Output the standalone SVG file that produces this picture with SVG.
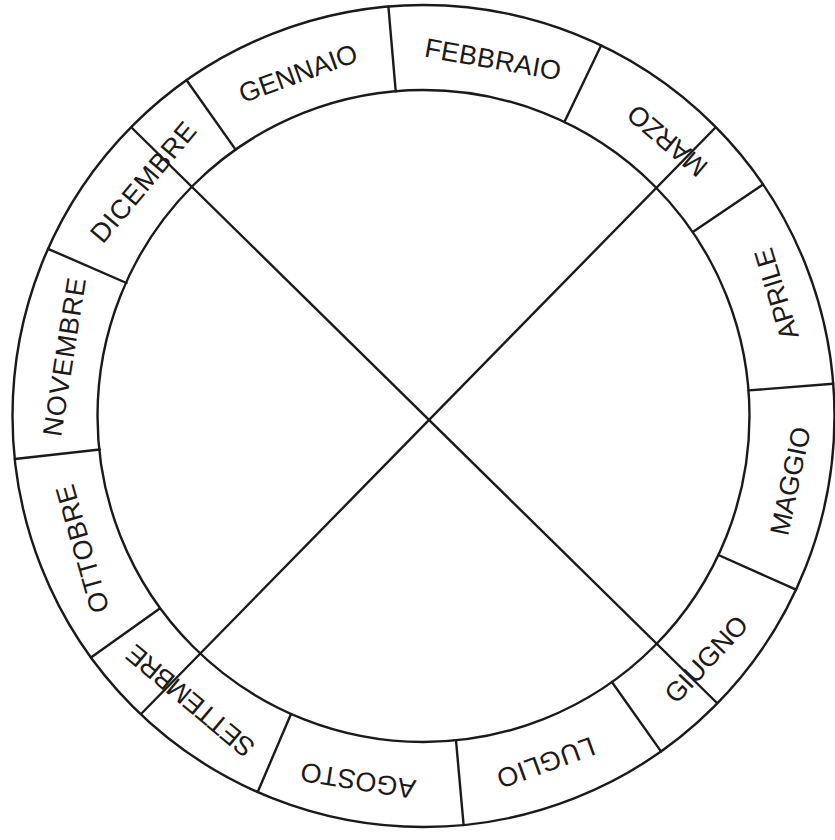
<svg xmlns="http://www.w3.org/2000/svg" width="835" height="840" viewBox="0 0 835 840">
  <style>
    .ln { stroke: #1a1a1a; stroke-width: 2.4; fill: none; stroke-linecap: round; }
    .m { font-family: "Liberation Sans", Arial, Helvetica, sans-serif; font-size: 27px; fill: #1a1a1a; text-anchor: middle; }
  </style>
  <rect width="835" height="840" fill="#ffffff"/>
  <g id="wheel">
    <circle class="ln" cx="423.5" cy="416" r="411"/>
    <circle class="ln" cx="423.5" cy="416" r="326"/>
  </g>
  <g id="separators">
    <line class="ln" x1="388.4" y1="6.5" x2="395.7" y2="91.2"/>
    <line class="ln" x1="601.1" y1="45.4" x2="564.4" y2="122"/>
    <line class="ln" x1="763" y1="184.4" x2="693.5" y2="231.5"/>
    <line class="ln" x1="833.2" y1="383.7" x2="748.5" y2="390.4"/>
    <line class="ln" x1="796" y1="589.7" x2="719.5" y2="555.5"/>
    <line class="ln" x1="661" y1="751.4" x2="611.9" y2="682"/>
    <line class="ln" x1="463.6" y1="825" x2="456" y2="740.4"/>
    <line class="ln" x1="257.7" y1="792" x2="291" y2="714"/>
    <line class="ln" x1="91" y1="657.6" x2="159.8" y2="608.6"/>
    <line class="ln" x1="14.8" y1="459" x2="99.8" y2="449.5"/>
    <line class="ln" x1="48" y1="248.8" x2="126.5" y2="283"/>
    <line class="ln" x1="186.6" y1="80.2" x2="235.6" y2="149.6"/>
  </g>
  <g id="gennaio"><text class="m" transform="translate(298,73) rotate(-20)" y="9.6" textLength="124" lengthAdjust="spacing">GENNAIO</text></g>
  <g id="febbraio"><text class="m" transform="translate(493,59) rotate(10)" y="9.6" textLength="138" lengthAdjust="spacing">FEBBRAIO</text></g>
  <g id="marzo"><text class="m" transform="translate(667,141) rotate(220)" y="9.6" textLength="95" lengthAdjust="spacing">MARZO</text></g>
  <g id="aprile"><text class="m" transform="translate(776,294) rotate(253)" y="9.6" textLength="94" lengthAdjust="spacing">APRILE</text></g>
  <g id="maggio"><text class="m" transform="translate(790,481) rotate(282)" y="9.6" textLength="110" lengthAdjust="spacing">MAGGIO</text></g>
  <g id="giugno"><text class="m" transform="translate(706,659) rotate(-47)" y="9.6" textLength="108" lengthAdjust="spacing">GIUGNO</text></g>
  <g id="luglio"><text class="m" transform="translate(546,763) rotate(160)" y="9.6" textLength="102" lengthAdjust="spacing">LUGLIO</text></g>
  <g id="agosto"><text class="m" transform="translate(358,781) rotate(189)" y="9.6" textLength="116" lengthAdjust="spacing">AGOSTO</text></g>
  <g id="settembre"><text class="m" transform="translate(190,701) rotate(220)" y="9.6" textLength="158" lengthAdjust="spacing">SETTEMBRE</text></g>
  <g id="ottobre"><text class="m" transform="translate(82,549) rotate(254)" y="9.6" textLength="132" lengthAdjust="spacing">OTTOBRE</text></g>
  <g id="novembre"><text class="m" transform="translate(64,357) rotate(279)" y="9.6" textLength="160" lengthAdjust="spacing">NOVEMBRE</text></g>
  <g id="dicembre"><text class="m" transform="translate(143,182) rotate(-50)" y="9.6" textLength="148" lengthAdjust="spacing">DICEMBRE</text></g>
  <g id="connectors">
    <line class="ln" x1="132" y1="128" x2="717" y2="703"/>
    <line class="ln" x1="715" y1="128" x2="142" y2="713"/>
  </g>
</svg>
